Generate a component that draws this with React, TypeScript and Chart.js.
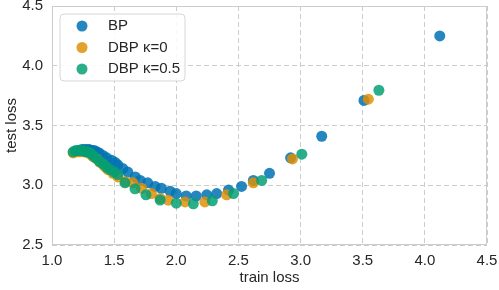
import React, { useEffect, useRef } from "react";
import { Chart, registerables } from "chart.js";

Chart.register(...registerables);

const seriesLabels = ["BP", "DBP κ=0", "DBP κ=0.5"];
const seriesColors = ["rgba(1,115,178,0.86)", "rgba(222,143,5,0.84)", "rgba(2,158,115,0.84)"];

const bpTrain = [1.22, 1.24, 1.26, 1.28, 1.3, 1.32, 1.34, 1.36, 1.38, 1.41, 1.44, 1.48, 1.51, 1.53, 1.57, 1.61, 1.67, 1.71, 1.77, 1.83, 1.88, 1.95, 2.0, 2.08, 2.16, 2.245, 2.325, 2.42, 2.525, 2.62, 2.75, 2.92, 3.17, 3.51, 4.12];
const bpTest = [3.29, 3.3, 3.3, 3.3, 3.3, 3.29, 3.29, 3.28, 3.27, 3.25, 3.23, 3.21, 3.19, 3.17, 3.14, 3.11, 3.07, 3.04, 3.02, 2.99, 2.975, 2.95, 2.93, 2.91, 2.91, 2.92, 2.93, 2.96, 2.99, 3.04, 3.1, 3.23, 3.41, 3.71, 4.25];

const dbp0Train = [1.17, 1.19, 1.21, 1.23, 1.25, 1.27, 1.29, 1.31, 1.33, 1.36, 1.39, 1.42, 1.45, 1.49, 1.53, 1.59, 1.65, 1.72, 1.8, 1.87, 1.935, 2.07, 2.23, 2.405, 2.62, 2.935, 3.545];
const dbp0Test = [3.27, 3.28, 3.28, 3.28, 3.28, 3.28, 3.27, 3.26, 3.24, 3.22, 3.19, 3.16, 3.13, 3.1, 3.07, 3.03, 3.02, 2.975, 2.93, 2.89, 2.875, 2.86, 2.86, 2.92, 3.02, 3.22, 3.72];

const dbp05Train = [1.17, 1.19, 1.21, 1.23, 1.25, 1.27, 1.29, 1.31, 1.33, 1.35, 1.38, 1.41, 1.44, 1.467, 1.5, 1.53, 1.587, 1.668, 1.756, 1.87, 2.0, 2.137, 2.29, 2.46, 2.687, 3.01, 3.63];
const dbp05Test = [3.28, 3.29, 3.29, 3.29, 3.29, 3.28, 3.28, 3.27, 3.25, 3.23, 3.2, 3.18, 3.15, 3.13, 3.11, 3.09, 3.02, 2.97, 2.92, 2.876, 2.85, 2.845, 2.87, 2.93, 3.04, 3.26, 3.795];

const xTickValues = [1.0, 1.5, 2.0, 2.5, 3.0, 3.5, 4.0, 4.5];
const yTickValues = [2.5, 3.0, 3.5, 4.0, 4.5];

const FONT = "'Liberation Sans', Arial, sans-serif";
const TEXT = "#262626";

const toPoints = (xs: number[], ys: number[]) => xs.map((x, i) => ({ x, y: ys[i] }));

const framePlugin = {
  id: "frame",
  afterDraw(chart: any) {
    const { ctx, chartArea } = chart;
    ctx.save();
    ctx.strokeStyle = "#cccccc";
    ctx.lineWidth = 1;
    ctx.setLineDash([]);
    ctx.strokeRect(chartArea.left + 0.5, chartArea.top + 0.5, chartArea.right - chartArea.left - 1, chartArea.bottom - chartArea.top - 1);
    // legend
    const bx = 60, by = 14, bw = 125, bh = 67, r = 4;
    ctx.beginPath();
    ctx.moveTo(bx + r, by);
    ctx.arcTo(bx + bw, by, bx + bw, by + bh, r);
    ctx.arcTo(bx + bw, by + bh, bx, by + bh, r);
    ctx.arcTo(bx, by + bh, bx, by, r);
    ctx.arcTo(bx, by, bx + bw, by, r);
    ctx.closePath();
    ctx.fillStyle = "rgba(255,255,255,0.85)";
    ctx.fill();
    ctx.strokeStyle = "#d6d6d6";
    ctx.stroke();
    ctx.font = `15px ${FONT}`;
    ctx.textBaseline = "middle";
    ctx.textAlign = "left";
    chart.data.datasets.forEach((ds: any, i: number) => {
      const cy = 26 + i * 21.5;
      ctx.beginPath();
      ctx.arc(82, cy, 5.5, 0, Math.PI * 2);
      ctx.fillStyle = ds.backgroundColor;
      ctx.fill();
      ctx.fillStyle = TEXT;
      ctx.fillText(ds.label, 108, cy);
    });
    ctx.restore();
  },
};

export default function App() {
  const ref = useRef<HTMLCanvasElement>(null);
  useEffect(() => {
    document.body.style.margin = "0";
    const pts = [toPoints(bpTrain, bpTest), toPoints(dbp0Train, dbp0Test), toPoints(dbp05Train, dbp05Test)];
    const chart = new Chart(ref.current!, {
      type: "scatter",
      data: {
        datasets: pts.map((data, i) => ({
          label: seriesLabels[i],
          data,
          backgroundColor: seriesColors[i],
          borderWidth: 0,
          pointRadius: 5.5,
          order: 3 - i,
        })),
      },
      options: {
        animation: false,
        responsive: false,
        layout: { padding: { left: 0, right: 12, top: 6, bottom: 0 } },
        plugins: { legend: { display: false }, tooltip: { enabled: false } },
        scales: {
          x: {
            type: "linear",
            min: 1.0,
            max: 4.5,
            afterBuildTicks: (s: any) => { s.ticks = xTickValues.map((v) => ({ value: v })); },
            afterFit: (s: any) => { s.height = 45; s.paddingLeft = 0; s.paddingRight = 0; s.paddingTop = 0; s.paddingBottom = 0; },
            grid: { color: "#cccccc", lineWidth: 1, drawTicks: false },
            border: { display: false, dash: [5, 3] },
            ticks: { padding: 7, color: TEXT, font: { family: FONT, size: 15 }, callback: (v: any) => Number(v).toFixed(1), maxRotation: 0 },
            title: { display: true, text: "train loss", color: TEXT, font: { family: FONT, size: 15 }, padding: { top: 3, bottom: 3 } },
          },
          y: {
            type: "linear",
            min: 2.5,
            max: 4.5,
            afterBuildTicks: (s: any) => { s.ticks = yTickValues.map((v) => ({ value: v })); },
            afterFit: (s: any) => { s.width = 52; s.paddingLeft = 0; s.paddingRight = 0; s.paddingTop = 0; s.paddingBottom = 0; },
            grid: { color: "#cccccc", lineWidth: 1, drawTicks: false },
            border: { display: false, dash: [5, 3] },
            ticks: { padding: 9, color: TEXT, font: { family: FONT, size: 15 }, callback: (v: any) => Number(v).toFixed(1) },
            title: { display: true, text: "test loss", color: TEXT, font: { family: FONT, size: 15 }, padding: { top: 3, bottom: 3 } },
          },
        },
      },
      plugins: [framePlugin],
    });
    return () => chart.destroy();
  }, []);
  return (
    <div style={{ position: "absolute", left: 0, top: 0, width: 499, height: 290 }}>
      <canvas ref={ref} width={499} height={290} />
    </div>
  );
}
